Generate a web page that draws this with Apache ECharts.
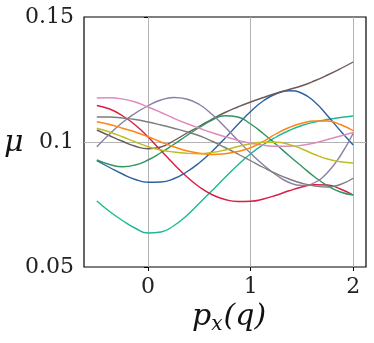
<!DOCTYPE html>
<html>
<head>
<meta charset="utf-8">
<script src="https://cdn.jsdelivr.net/npm/echarts@6/dist/echarts.min.js"></script>
<style>
  html, body { margin: 0; padding: 0; background: #fff; }
  #chart { width: 374px; height: 343px; }
</style>
</head>
<body>
<div id="chart"></div>
<script>
// x positions of the samples
const xs = [-0.5, -0.375, -0.25, -0.125, 0, 0.125, 0.25, 0.375, 0.5, 0.625, 0.75,
            0.875, 1, 1.125, 1.25, 1.375, 1.5, 1.625, 1.75, 1.875, 2];
// mu values, one array per curve
const teal   = [0.0764, 0.0722, 0.0686, 0.0655, 0.0636, 0.0640, 0.0665, 0.0705, 0.0755, 0.0806, 0.0858,
                0.0908, 0.0953, 0.0990, 0.1020, 0.1046, 0.1066, 0.1080, 0.1090, 0.1098, 0.1104];
const red    = [0.1146, 0.1132, 0.1105, 0.1068, 0.1020, 0.0966, 0.0912, 0.0862, 0.0820, 0.0789, 0.0770,
                0.0762, 0.0763, 0.0772, 0.0787, 0.0805, 0.0820, 0.0829, 0.0828, 0.0812, 0.0788];
const blue   = [0.0925, 0.0898, 0.0872, 0.0850, 0.0839, 0.0840, 0.0853, 0.0880, 0.0917, 0.0963, 0.1015,
                0.1070, 0.1122, 0.1165, 0.1193, 0.1205, 0.1195, 0.1160, 0.1105, 0.1045, 0.0988];
const brown  = [0.1048, 0.1025, 0.1003, 0.0983, 0.0973, 0.0980, 0.1005, 0.1035, 0.1063, 0.1092, 0.1118,
                0.1140, 0.1160, 0.1178, 0.1195, 0.1210, 0.1225, 0.1245, 0.1268, 0.1293, 0.1320];
const green  = [0.0928, 0.0910, 0.0901, 0.0908, 0.0928, 0.0957, 0.0990, 0.1025, 0.1058, 0.1088, 0.1105,
                0.1100, 0.1072, 0.1033, 0.0990, 0.0945, 0.0902, 0.0860, 0.0825, 0.0800, 0.0788];
const purple = [0.0981, 0.1032, 0.1078, 0.1115, 0.1145, 0.1168, 0.1178, 0.1172, 0.1150, 0.1110, 0.1060,
                0.1007, 0.0955, 0.0908, 0.0868, 0.0838, 0.0826, 0.0838, 0.0878, 0.0945, 0.1035];
const gray   = [0.1100, 0.1100, 0.1096, 0.1090, 0.1080, 0.1068, 0.1055, 0.1041, 0.1025, 0.1003, 0.0978,
                0.0952, 0.0925, 0.0898, 0.0873, 0.0852, 0.0835, 0.0824, 0.0820, 0.0830, 0.0855];
const pink   = [0.1176, 0.1177, 0.1172, 0.1160, 0.1140, 0.1118, 0.1095, 0.1074, 0.1055, 0.1037, 0.1021,
                0.1007, 0.0995, 0.0987, 0.0983, 0.0983, 0.0987, 0.0996, 0.1010, 0.1024, 0.1038];
const orange = [0.1081, 0.1070, 0.1055, 0.1040, 0.1021, 0.1000, 0.0981, 0.0965, 0.0955, 0.0950, 0.0953,
                0.0962, 0.0977, 0.1003, 0.1033, 0.1058, 0.1075, 0.1084, 0.1084, 0.1070, 0.1045];
const olive  = [0.1055, 0.1040, 0.1021, 0.1000, 0.0981, 0.0968, 0.0960, 0.0955, 0.0953, 0.0958, 0.0968,
                0.0982, 0.0993, 0.0999, 0.0999, 0.0990, 0.0972, 0.0950, 0.0932, 0.0921, 0.0916];

// tick labels
const xTicks = [0, 1, 2];
const yTicks = [0.05, 0.1, 0.15];

const curves = [
  { data: teal, color: '#1db894' },
  { data: red, color: '#d81e45' },
  { data: blue, color: '#2d62a0' },
  { data: brown, color: '#6b5a58' },
  { data: green, color: '#2e9660' },
  { data: purple, color: '#8a7fa6' },
  { data: gray, color: '#7d7d7d' },
  { data: pink, color: '#dc8cbc' },
  { data: orange, color: '#ff8412' },
  { data: olive, color: '#bcbd22' }
];

const font = '"DejaVu Serif"';
const chart = echarts.init(document.getElementById('chart'));

const option = {
  backgroundColor: '#ffffff',
  animation: false,
  grid: {
    left: 84, top: 17, width: 282, height: 250,
    show: true, borderColor: '#000', borderWidth: 1.2
  },
  xAxis: {
    type: 'value',
    min: -0.625,
    max: 2.125,
    axisLine: { show: false },
    axisTick: { show: true, length: 4, customValues: xTicks, lineStyle: { color: '#000' } },
    axisLabel: {
      customValues: xTicks, margin: 9,
      fontFamily: font, fontSize: 22, color: '#222'
    },
    splitLine: { show: false }
  },
  yAxis: {
    type: 'value',
    min: 0.05,
    max: 0.15,
    interval: 0.05,
    axisLine: { show: false },
    axisTick: { show: true, length: 4, lineStyle: { color: '#000' } },
    axisLabel: {
      margin: 10, fontFamily: font, fontSize: 22, color: '#222',
      formatter: v => yTicks.find(t => Math.abs(t - v) < 1e-9) + ''
    },
    splitLine: { show: false }
  },
  graphic: [
    {
      type: 'text', left: 4, top: 128,
      style: { text: 'μ', fontFamily: font, fontStyle: 'italic', fontSize: 30, fill: '#111' }
    },
    {
      type: 'text', left: 192, top: 302,
      style: {
        text: '{a|p}{b|x}{a|(q)}',
        rich: {
          a: { fontFamily: font, fontStyle: 'italic', fontSize: 30, fill: '#111' },
          b: { fontFamily: font, fontStyle: 'italic', fontSize: 20, fill: '#111', padding: [16, 1, 0, 0] }
        }
      }
    }
  ],
  series: curves.map((c, i) => ({
    type: 'line',
    data: xs.map((x, k) => [x, c.data[k]]),
    smooth: 0.5,
    showSymbol: false,
    lineStyle: { color: c.color, width: 1.4 },
    z: 3,
    markLine: i === 0 ? {
      silent: true,
      symbol: 'none',
      label: { show: false },
      lineStyle: { color: '#b4b4b4', width: 1, type: 'solid' },
      data: xTicks.map(t => ({ xAxis: t })).concat([{ yAxis: 0.1 }]),
      z: 1
    } : undefined
  }))
};

chart.setOption(option);
</script>
</body>
</html>
